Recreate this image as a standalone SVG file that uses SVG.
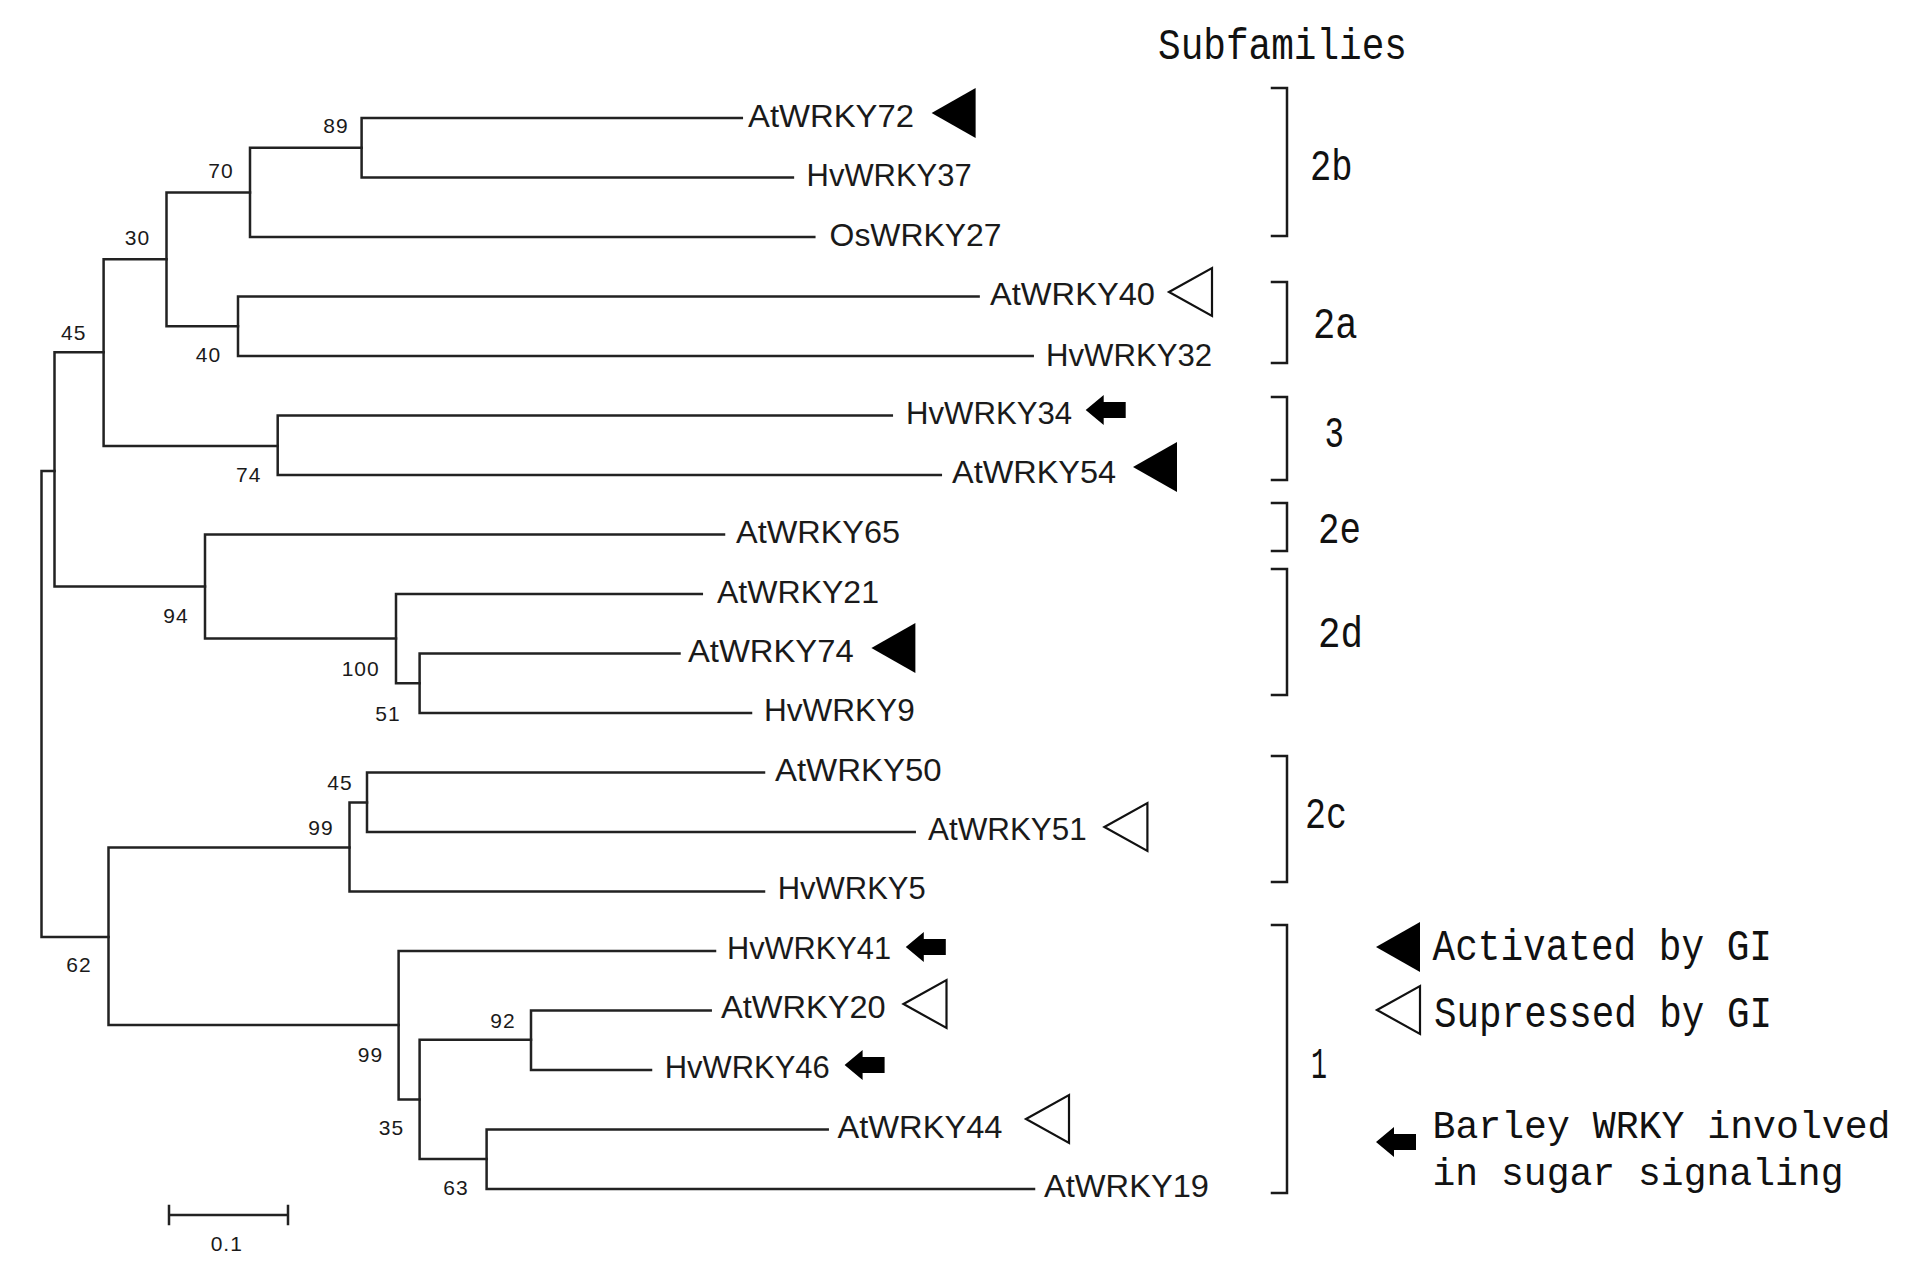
<svg xmlns="http://www.w3.org/2000/svg" xmlns:xlink="http://www.w3.org/1999/xlink" width="1923" height="1280" viewBox="0 0 1923 1280">
<style>
.br{fill:none;stroke:#1a1a1a;stroke-width:2.5;stroke-linecap:square}
.ln{fill:none;stroke:#222;stroke-width:2.5;stroke-linecap:square}
.lf{font-family:"Liberation Sans",Arial,sans-serif;font-size:32px;fill:#1a1a1a}
.bs{font-family:"Liberation Sans",Arial,sans-serif;font-size:21px;fill:#1a1a1a;text-anchor:middle;letter-spacing:1px}
.mo{font-family:"Liberation Mono","DejaVu Sans Mono",monospace;font-size:44px;fill:#111}
.ms{font-size:39px}
.ft{fill:#000}
.ot{fill:#fff;stroke:#111;stroke-width:2.2;stroke-linejoin:miter}
</style>
<defs>
<path id="tri" d="M0,0 L44,-25 L44,25 Z"/>
<path id="otri" d="M0,0 L43,-24 L43,24 Z"/>
<path id="arr" d="M0,0 L18,-15 L18,-8 L40,-8 L40,8 L18,8 L18,15 Z"/>
</defs>
<rect width="1923" height="1280" fill="#fff"/>

<g id="connectors">
<path class="ln" d="M361.6,118 V177.5 M361.6,118 H741.8 M361.6,177.5 H792.9"/>
<path class="ln" d="M250,147.75 V237 M250,147.75 H361.6 M250,237 H814.3"/>
<path class="ln" d="M238,296.5 V356 M238,296.5 H978.6 M238,356 H1032.7"/>
<path class="ln" d="M166.5,192.4 V326.25 M166.5,192.4 H250 M166.5,326.25 H238"/>
<path class="ln" d="M277.7,415.5 V475 M277.7,415.5 H891.8 M277.7,475 H940.8"/>
<path class="ln" d="M103.6,259.3 V446 M103.6,259.3 H166.5 M103.6,446 H277.7"/>
<path class="ln" d="M419.6,653.5 V713 M419.6,653.5 H679.5 M419.6,713 H751"/>
<path class="ln" d="M396,594 V683.25 M396,594 H701.8 M396,683.25 H419.6"/>
<path class="ln" d="M205,534.5 V638.6 M205,534.5 H724 M205,638.6 H396"/>
<path class="ln" d="M54.5,352.3 V586.6 M54.5,352.3 H103.6 M54.5,586.6 H205"/>
<path class="ln" d="M367,772.5 V832 M367,772.5 H764 M367,832 H914.7"/>
<path class="ln" d="M349.5,802.5 V891.5 M349.5,802.5 H367 M349.5,891.5 H764"/>
<path class="ln" d="M531,1010.5 V1070 M531,1010.5 H710.7 M531,1070 H651"/>
<path class="ln" d="M486.6,1129.5 V1189 M486.6,1129.5 H827.7 M486.6,1189 H1034"/>
<path class="ln" d="M419.6,1039.75 V1159 M419.6,1039.75 H531 M419.6,1159 H486.6"/>
<path class="ln" d="M398.6,951 V1099.5 M398.6,951 H715 M398.6,1099.5 H419.6"/>
<path class="ln" d="M108.5,847.5 V1025 M108.5,847.5 H349.5 M108.5,1025 H398.6"/>
<path class="ln" d="M41.5,471 V937 M41.5,471 H54.5 M41.5,937 H108.5"/>
</g>

<g id="bootstrap">
<text class="bs" x="336" y="133">89</text>
<text class="bs" x="221" y="178">70</text>
<text class="bs" x="137.5" y="245">30</text>
<text class="bs" x="73.7" y="340">45</text>
<text class="bs" x="208.5" y="362">40</text>
<text class="bs" x="248.7" y="482">74</text>
<text class="bs" x="176" y="623">94</text>
<text class="bs" x="360.7" y="676">100</text>
<text class="bs" x="388" y="721">51</text>
<text class="bs" x="340" y="790">45</text>
<text class="bs" x="321" y="835">99</text>
<text class="bs" x="79" y="972">62</text>
<text class="bs" x="503" y="1028">92</text>
<text class="bs" x="370.5" y="1062">99</text>
<text class="bs" x="391.5" y="1135">35</text>
<text class="bs" x="456" y="1195">63</text>
</g>

<g id="leaf-AtWRKY72"><text class="lf" x="748" y="127" textLength="166" lengthAdjust="spacingAndGlyphs">AtWRKY72</text><use xlink:href="#tri" href="#tri" class="ft" x="931.6" y="113"/></g>
<g id="leaf-HvWRKY37"><text class="lf" x="806.6" y="186" textLength="165" lengthAdjust="spacingAndGlyphs">HvWRKY37</text></g>
<g id="leaf-OsWRKY27"><text class="lf" x="829.6" y="246" textLength="172" lengthAdjust="spacingAndGlyphs">OsWRKY27</text></g>
<g id="leaf-AtWRKY40"><text class="lf" x="990" y="305" textLength="165" lengthAdjust="spacingAndGlyphs">AtWRKY40</text><use xlink:href="#otri" href="#otri" class="ot" x="1169" y="292"/></g>
<g id="leaf-HvWRKY32"><text class="lf" x="1046" y="366" textLength="166" lengthAdjust="spacingAndGlyphs">HvWRKY32</text></g>
<g id="leaf-HvWRKY34"><text class="lf" x="906" y="424" textLength="166" lengthAdjust="spacingAndGlyphs">HvWRKY34</text><use xlink:href="#arr" href="#arr" class="ft" x="1085.7" y="410"/></g>
<g id="leaf-AtWRKY54"><text class="lf" x="952" y="483" textLength="164" lengthAdjust="spacingAndGlyphs">AtWRKY54</text><use xlink:href="#tri" href="#tri" class="ft" x="1133" y="467"/></g>
<g id="leaf-AtWRKY65"><text class="lf" x="736" y="543" textLength="164" lengthAdjust="spacingAndGlyphs">AtWRKY65</text></g>
<g id="leaf-AtWRKY21"><text class="lf" x="717" y="603" textLength="162" lengthAdjust="spacingAndGlyphs">AtWRKY21</text></g>
<g id="leaf-AtWRKY74"><text class="lf" x="688" y="662" textLength="165.6" lengthAdjust="spacingAndGlyphs">AtWRKY74</text><use xlink:href="#tri" href="#tri" class="ft" x="871.4" y="648"/></g>
<g id="leaf-HvWRKY9"><text class="lf" x="764" y="721" textLength="150.7" lengthAdjust="spacingAndGlyphs">HvWRKY9</text></g>
<g id="leaf-AtWRKY50"><text class="lf" x="775" y="781" textLength="166.5" lengthAdjust="spacingAndGlyphs">AtWRKY50</text></g>
<g id="leaf-AtWRKY51"><text class="lf" x="928" y="840" textLength="158.6" lengthAdjust="spacingAndGlyphs">AtWRKY51</text><use xlink:href="#otri" href="#otri" class="ot" x="1104.4" y="827"/></g>
<g id="leaf-HvWRKY5"><text class="lf" x="777.7" y="899" textLength="148" lengthAdjust="spacingAndGlyphs">HvWRKY5</text></g>
<g id="leaf-HvWRKY41"><text class="lf" x="727" y="959" textLength="164" lengthAdjust="spacingAndGlyphs">HvWRKY41</text><use xlink:href="#arr" href="#arr" class="ft" x="905.8" y="947"/></g>
<g id="leaf-AtWRKY20"><text class="lf" x="721" y="1018" textLength="164.7" lengthAdjust="spacingAndGlyphs">AtWRKY20</text><use xlink:href="#otri" href="#otri" class="ot" x="903.5" y="1004"/></g>
<g id="leaf-HvWRKY46"><text class="lf" x="664.7" y="1078" textLength="165" lengthAdjust="spacingAndGlyphs">HvWRKY46</text><use xlink:href="#arr" href="#arr" class="ft" x="844.6" y="1065"/></g>
<g id="leaf-AtWRKY44"><text class="lf" x="837.5" y="1138" textLength="165" lengthAdjust="spacingAndGlyphs">AtWRKY44</text><use xlink:href="#otri" href="#otri" class="ot" x="1026" y="1119"/></g>
<g id="leaf-AtWRKY19"><text class="lf" x="1044" y="1197" textLength="165" lengthAdjust="spacingAndGlyphs">AtWRKY19</text></g>

<g id="subfamilies">
<text class="mo" x="1158" y="59" textLength="249" lengthAdjust="spacingAndGlyphs">Subfamilies</text>
<path class="br" d="M1272,88 H1287 V236 H1272"/>
<text class="mo" x="1310" y="180" textLength="42.6" lengthAdjust="spacingAndGlyphs">2b</text>
<path class="br" d="M1272,282 H1287 V363 H1272"/>
<text class="mo" x="1313" y="338" textLength="44.6" lengthAdjust="spacingAndGlyphs">2a</text>
<path class="br" d="M1272,397 H1287 V480 H1272"/>
<text class="mo" x="1324.5" y="447" textLength="19.5" lengthAdjust="spacingAndGlyphs">3</text>
<path class="br" d="M1272,503 H1287 V551 H1272"/>
<text class="mo" x="1318" y="543" textLength="43" lengthAdjust="spacingAndGlyphs">2e</text>
<path class="br" d="M1272,569 H1287 V695 H1272"/>
<text class="mo" x="1318" y="647" textLength="45" lengthAdjust="spacingAndGlyphs">2d</text>
<path class="br" d="M1272,756 H1287 V882 H1272"/>
<text class="mo" x="1305" y="828" textLength="42" lengthAdjust="spacingAndGlyphs">2c</text>
<path class="br" d="M1272,925 H1287 V1193 H1272"/>
<text class="mo" x="1311" y="1078" textLength="16" lengthAdjust="spacingAndGlyphs">1</text>
</g>

<g id="legend">
<use xlink:href="#tri" href="#tri" class="ft" x="1376" y="947"/>
<text class="mo" x="1432.5" y="960" textLength="339.5" lengthAdjust="spacingAndGlyphs">Activated by GI</text>
<use xlink:href="#otri" href="#otri" class="ot" x="1377" y="1010"/>
<text class="mo" x="1434" y="1027" textLength="338" lengthAdjust="spacingAndGlyphs">Supressed by GI</text>
<use xlink:href="#arr" href="#arr" class="ft" x="1376" y="1142"/>
<text class="mo ms" x="1432.5" y="1138" textLength="458" lengthAdjust="spacingAndGlyphs">Barley WRKY involved</text>
<text class="mo ms" x="1432.5" y="1185" textLength="411" lengthAdjust="spacingAndGlyphs">in sugar signaling</text>
</g>

<g id="scale-bar">
<path class="ln" d="M169,1215 H288 M169,1206 V1224 M288,1206 V1224"/>
<text class="bs" x="226.8" y="1251">0.1</text>
</g>
</svg>
